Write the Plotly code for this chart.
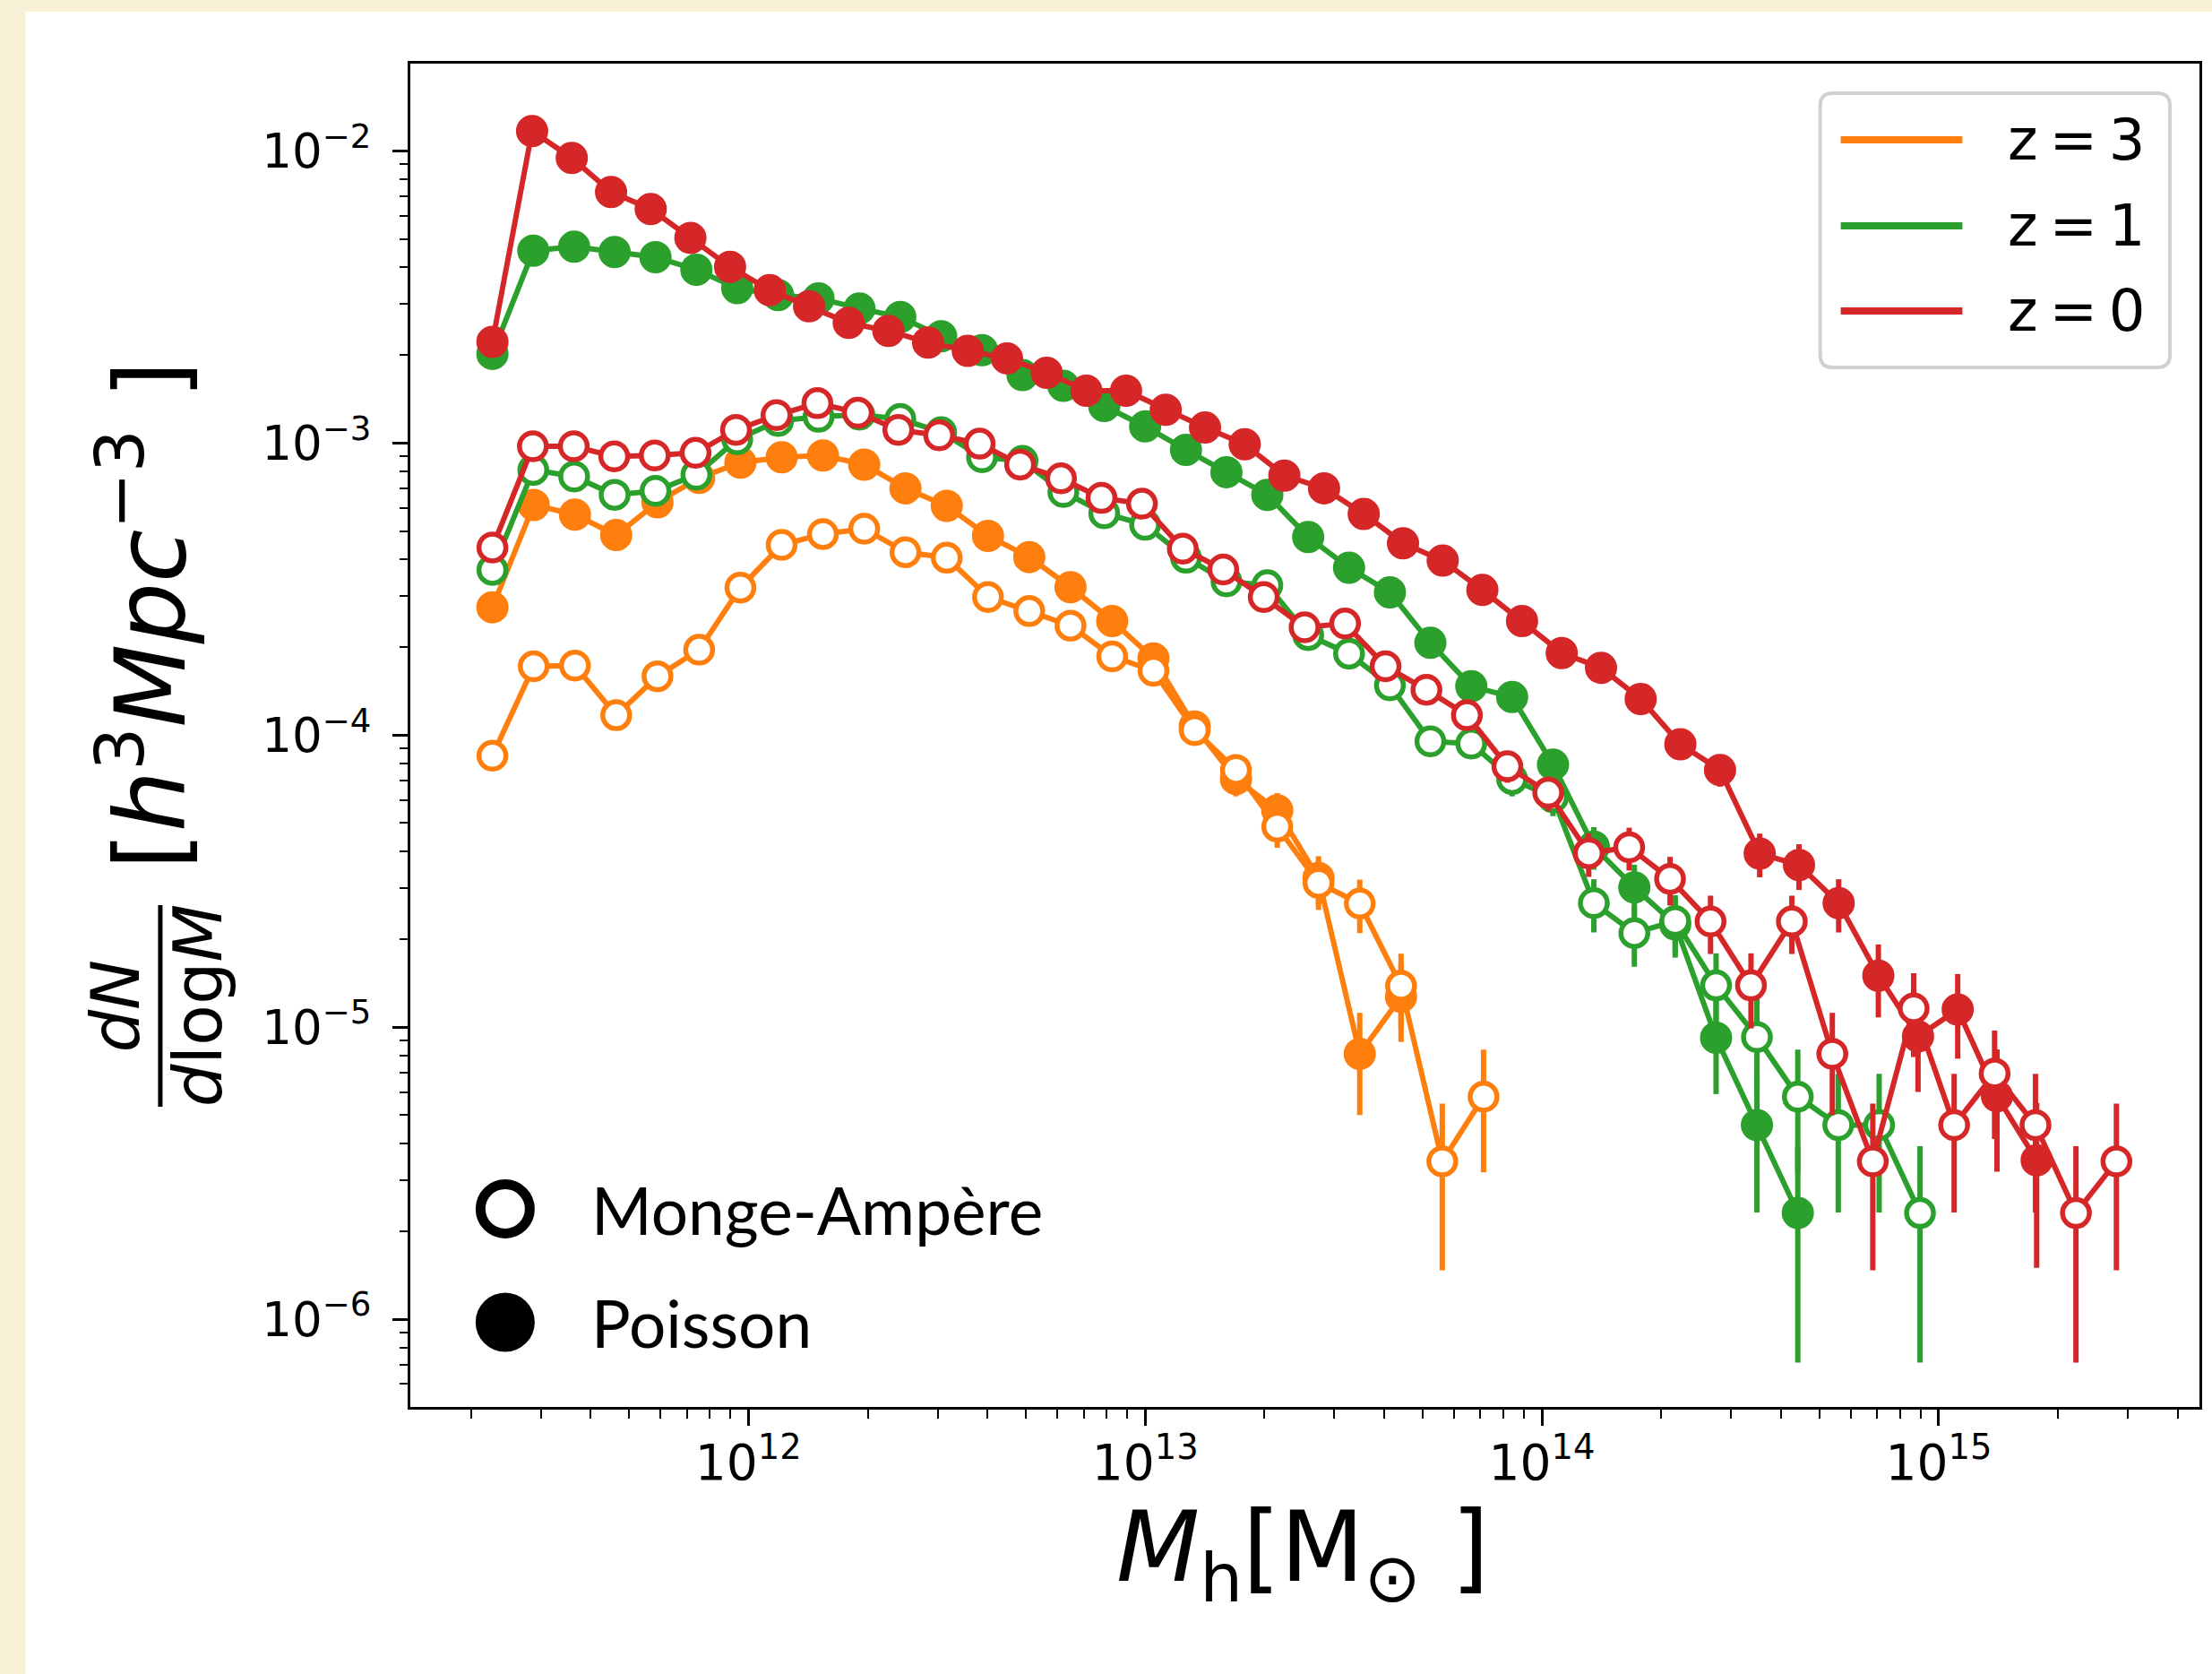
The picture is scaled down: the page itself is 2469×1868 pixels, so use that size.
import plotly.graph_objects as go

# ---------------------------------------------------------------------------
# Halo mass function dN/dlogM at z = 3, 1, 0 for two displacement schemes
# (Monge-Ampère: open circles, Poisson: filled circles)
# ---------------------------------------------------------------------------

# log10 bin centres of halo mass [M_sun]
logm_z3 = [11.355, 11.459, 11.563, 11.667, 11.771, 11.876, 11.980, 12.084, 12.188,
           12.292, 12.396, 12.500, 12.604, 12.708, 12.812, 12.917, 13.021, 13.125,
           13.229, 13.333, 13.437, 13.541, 13.645, 13.749, 13.853]
logm_z1 = [11.355, 11.458, 11.561, 11.663, 11.766, 11.869, 11.972, 12.075, 12.177,
           12.280, 12.383, 12.486, 12.589, 12.691, 12.794, 12.897, 13.000, 13.103,
           13.205, 13.308, 13.411, 13.514, 13.617, 13.719, 13.822, 13.925, 14.028,
           14.131, 14.233, 14.336, 14.439, 14.542, 14.645, 14.747, 14.850, 14.953]
logm_z0_poisson = [11.355, 11.455, 11.555, 11.654, 11.754, 11.854, 11.954, 12.054,
                   12.153, 12.253, 12.353, 12.453, 12.553, 12.652, 12.752, 12.852,
                   12.952, 13.052, 13.151, 13.251, 13.351, 13.451, 13.551, 13.650,
                   13.750, 13.850, 13.950, 14.050, 14.149, 14.249, 14.349, 14.449,
                   14.549, 14.648, 14.748, 14.848, 14.948, 15.048, 15.147, 15.247]
logm_z0_ma = [11.355, 11.457, 11.560, 11.662, 11.764, 11.867, 11.969, 12.071, 12.174,
              12.276, 12.378, 12.481, 12.583, 12.685, 12.788, 12.890, 12.992, 13.095,
              13.197, 13.299, 13.402, 13.504, 13.606, 13.709, 13.811, 13.913, 14.016,
              14.118, 14.220, 14.323, 14.425, 14.527, 14.630, 14.732, 14.834, 14.937,
              15.039, 15.141, 15.244, 15.346, 15.448]

# dN/dlogM [h^3 Mpc^-3]
hmf_z3_poisson = [2.74e-4, 6.14e-4, 5.69e-4, 4.84e-4, 6.27e-4, 7.6e-4, 8.57e-4, 8.94e-4,
                  9.07e-4, 8.44e-4, 7.0e-4, 6.09e-4, 4.81e-4, 4.07e-4, 3.21e-4, 2.46e-4,
                  1.83e-4, 1.07e-4, 7.07e-5, 5.53e-5, 3.24e-5, 8.1e-6, 1.27e-5]
hmf_z3_ma = [8.5e-5, 1.72e-4, 1.73e-4, 1.17e-4, 1.59e-4, 1.96e-4, 3.2e-4, 4.48e-4,
             4.88e-4, 5.09e-4, 4.23e-4, 4.05e-4, 2.97e-4, 2.66e-4, 2.37e-4, 1.86e-4,
             1.66e-4, 1.04e-4, 7.6e-5, 4.86e-5, 3.12e-5, 2.65e-5, 1.385e-5, 3.47e-6,
             5.78e-6]
hmf_z1_poisson = [2.02e-3, 4.56e-3, 4.70e-3, 4.51e-3, 4.33e-3, 3.92e-3, 3.39e-3, 3.21e-3,
                  3.13e-3, 2.89e-3, 2.70e-3, 2.32e-3, 2.08e-3, 1.71e-3, 1.57e-3, 1.34e-3,
                  1.14e-3, 9.48e-4, 7.95e-4, 6.65e-4, 4.77e-4, 3.74e-4, 3.08e-4, 2.07e-4,
                  1.47e-4, 1.35e-4, 7.93e-5, 4.15e-5, 3.01e-5, 2.25e-5, 9.2e-6, 4.62e-6,
                  2.31e-6]
hmf_z1_ma = [3.68e-4, 8.09e-4, 7.68e-4, 6.65e-4, 6.86e-4, 7.79e-4, 1.03e-3, 1.19e-3,
             1.23e-3, 1.25e-3, 1.21e-3, 1.09e-3, 8.94e-4, 8.69e-4, 6.80e-4, 5.75e-4,
             5.25e-4, 4.05e-4, 3.36e-4, 3.26e-4, 2.20e-4, 1.90e-4, 1.48e-4, 9.52e-5,
             9.35e-5, 7.07e-5, 6.12e-5, 2.66e-5, 2.10e-5, 2.31e-5, 1.39e-5, 9.25e-6,
             5.78e-6, 4.62e-6, 4.62e-6, 2.31e-6]
hmf_z0_poisson = [2.22e-3, 1.17e-2, 9.47e-3, 7.24e-3, 6.33e-3, 5.04e-3, 4.01e-3, 3.34e-3,
                  2.94e-3, 2.58e-3, 2.42e-3, 2.21e-3, 2.07e-3, 1.95e-3, 1.74e-3, 1.51e-3,
                  1.51e-3, 1.30e-3, 1.13e-3, 9.9e-4, 7.74e-4, 7.0e-4, 5.72e-4, 4.54e-4,
                  3.96e-4, 3.14e-4, 2.46e-4, 1.91e-4, 1.70e-4, 1.33e-4, 9.3e-5, 7.6e-5,
                  3.93e-5, 3.59e-5, 2.66e-5, 1.50e-5, 9.3e-6, 1.15e-5, 5.8e-6, 3.5e-6]
hmf_z0_ma = [4.39e-4, 9.75e-4, 9.75e-4, 9.0e-4, 9.07e-4, 9.26e-4, 1.11e-3, 1.246e-3,
             1.37e-3, 1.27e-3, 1.11e-3, 1.063e-3, 9.95e-4, 8.44e-4, 7.57e-4, 6.49e-4,
             6.20e-4, 4.35e-4, 3.69e-4, 2.97e-4, 2.34e-4, 2.41e-4, 1.72e-4, 1.43e-4,
             1.17e-4, 7.82e-5, 6.35e-5, 3.94e-5, 4.13e-5, 3.22e-5, 2.30e-5, 1.39e-5,
             2.30e-5, 8.1e-6, 3.47e-6, 1.16e-5, 4.62e-6, 6.94e-6, 4.62e-6, 2.31e-6,
             3.47e-6]

# Poisson counting errors (negligible ones left at zero)
err_z3_poisson = [0, 0, 0, 0, 0, 0, 0, 0, 0, 0, 0, 0, 0, 0, 0, 0, 0, 0,
                  9.0e-6, 8.0e-6, 6.1e-6, 3.1e-6, 3.8e-6]
err_z3_ma = [0, 0, 0, 0, 0, 0, 0, 0, 0, 0, 0, 0, 0, 0, 0, 0, 0,
             1.1e-5, 9.4e-6, 7.5e-6, 6.0e-6, 5.5e-6, 4.0e-6, 2.0e-6, 2.6e-6]
err_z1_poisson = [0, 0, 0, 0, 0, 0, 0, 0, 0, 0, 0, 0, 0, 0, 0, 0, 0, 0, 0, 0, 0, 0,
                  0, 0, 0, 0,
                  9.6e-6, 6.9e-6, 5.9e-6, 5.2e-6, 3.3e-6, 2.3e-6, 1.6e-6]
err_z1_ma = [0, 0, 0, 0, 0, 0, 0, 0, 0, 0, 0, 0, 0, 0, 0, 0, 0, 0, 0, 0, 0, 0, 0,
             1.05e-5, 1.04e-5, 9.0e-6, 8.4e-6, 5.5e-6, 4.9e-6, 5.2e-6, 4.0e-6, 3.3e-6,
             2.6e-6, 2.3e-6, 2.3e-6, 1.6e-6]
err_z0_poisson = [0, 0, 0, 0, 0, 0, 0, 0, 0, 0, 0, 0, 0, 0, 0, 0, 0, 0, 0, 0, 0, 0,
                  0, 0, 0, 0, 0, 0, 0,
                  1.24e-5, 1.03e-5, 9.4e-6, 6.7e-6, 6.4e-6, 5.5e-6, 4.2e-6, 3.3e-6,
                  3.7e-6, 2.6e-6, 2.0e-6]
err_z0_ma = [0, 0, 0, 0, 0, 0, 0, 0, 0, 0, 0, 0, 0, 0, 0, 0, 0, 0, 0, 0, 0, 0, 0,
             0, 0,
             9.5e-6, 8.6e-6, 6.7e-6, 6.9e-6, 6.1e-6, 5.2e-6, 4.0e-6, 5.2e-6, 3.1e-6,
             2.0e-6, 3.7e-6, 2.3e-6, 2.8e-6, 2.3e-6, 1.6e-6, 2.0e-6]

redshift_labels = ["z = 3", "z = 1", "z = 0"]
method_labels = ["Monge-Ampère", "Poisson"]
x_tick_vals = [1e12, 1e13, 1e14, 1e15]
x_tick_text = ["10<sup>12</sup>", "10<sup>13</sup>", "10<sup>14</sup>", "10<sup>15</sup>"]
y_tick_vals = [1e-6, 1e-5, 1e-4, 1e-3, 1e-2]
y_tick_text = ["10<sup>\u22126</sup>", "10<sup>\u22125</sup>", "10<sup>\u22124</sup>",
               "10<sup>\u22123</sup>", "10<sup>\u22122</sup>"]

ORANGE, GREEN, RED = "#ff7f0e", "#2ca02c", "#d62728"

# ---------------------------------------------------------------------------
FIG_W, FIG_H = 2469, 1868
PLOT_L, PLOT_R, PLOT_T, PLOT_B = 458, 2458, 71, 1570
FONT = "DejaVu Sans"


def paper(px, py):
    """Pixel position on the page -> paper coordinates."""
    return (px - PLOT_L) / (PLOT_R - PLOT_L), (PLOT_B - py) / (PLOT_B - PLOT_T)


def series(logm, vals, errs, color, filled):
    marker = dict(symbol="circle", size=32 if filled else 30,
                  color=color if filled else "white",
                  line=dict(color=color, width=4 if filled else 5.5))
    return go.Scatter(
        x=[10 ** v for v in logm], y=vals, mode="lines+markers",
        line=dict(color=color, width=6), marker=marker,
        error_y=dict(type="data", array=errs, visible=True, thickness=6,
                     width=0, color=color),
        showlegend=False, cliponaxis=True,
    )


fig = go.Figure()
fig.add_trace(series(logm_z3, hmf_z3_poisson, err_z3_poisson, ORANGE, True))
fig.add_trace(series(logm_z3, hmf_z3_ma, err_z3_ma, ORANGE, False))
fig.add_trace(series(logm_z1[:len(hmf_z1_poisson)], hmf_z1_poisson, err_z1_poisson, GREEN, True))
fig.add_trace(series(logm_z1, hmf_z1_ma, err_z1_ma, GREEN, False))
fig.add_trace(series(logm_z0_poisson, hmf_z0_poisson, err_z0_poisson, RED, True))
fig.add_trace(series(logm_z0_ma, hmf_z0_ma, err_z0_ma, RED, False))

x_minor = [m * 10 ** e for e in range(11, 16) for m in range(2, 10)]
y_minor = [m * 10 ** e for e in range(-7, -1) for m in range(2, 10)]

axis_common = dict(
    type="log", showline=True, linecolor="black", linewidth=3, mirror=True,
    ticks="outside", tickcolor="black", tickwidth=2.5, showgrid=False,
    zeroline=False, tickmode="array",
)
fig.update_xaxes(
    **axis_common, range=[11.1481, 15.6573], ticklen=18,
    tickvals=x_tick_vals, ticktext=x_tick_text,
    tickfont=dict(family=FONT, size=55, color="black"), ticklabelstandoff=-6,
    minor=dict(ticks="outside", ticklen=10, tickwidth=2, tickcolor="black",
               tickmode="array", tickvals=x_minor, showgrid=False),
)
fig.update_yaxes(
    **axis_common, range=[-6.3004, -1.7008], ticklen=17,
    tickvals=y_tick_vals, ticktext=y_tick_text,
    tickfont=dict(family=FONT, size=53, color="black"), ticklabelstandoff=13,
    minor=dict(ticks="outside", ticklen=9, tickwidth=2, tickcolor="black",
               tickmode="array", tickvals=y_minor, showgrid=False),
)

shapes = []
annotations = []

# white card on the cream page
x0, y0 = paper(28, 1880)
x1, y1 = paper(2480, 13)
shapes.append(dict(type="rect", xref="paper", yref="paper", x0=x0, y0=y0, x1=x1, y1=y1,
                   fillcolor="white", line=dict(width=0), layer="below"))

# redshift legend: rounded frame, line samples and labels
bx0, by0, bx1, by1, rad = 2034, 104, 2425, 410, 14
pts = {
    "a": paper(bx0 + rad, by0), "b": paper(bx1 - rad, by0), "c": paper(bx1, by0),
    "d": paper(bx1, by0 + rad), "e": paper(bx1, by1 - rad), "f": paper(bx1, by1),
    "g": paper(bx1 - rad, by1), "h": paper(bx0 + rad, by1), "i": paper(bx0, by1),
    "j": paper(bx0, by1 - rad), "k": paper(bx0, by0 + rad), "l": paper(bx0, by0),
}
p = lambda k: f"{pts[k][0]:.5f},{pts[k][1]:.5f}"
path = (f"M {p('a')} L {p('b')} Q {p('c')} {p('d')} L {p('e')} Q {p('f')} {p('g')} "
        f"L {p('h')} Q {p('i')} {p('j')} L {p('k')} Q {p('l')} {p('a')} Z")
shapes.append(dict(type="path", xref="paper", yref="paper", path=path,
                   fillcolor="white", line=dict(color="#d0d0d0", width=4)))
for label, color, yy in zip(redshift_labels, [ORANGE, GREEN, RED], [156, 252, 347]):
    lx0, ly = paper(2057, yy)
    lx1, _ = paper(2193, yy)
    shapes.append(dict(type="line", xref="paper", yref="paper", x0=lx0, x1=lx1,
                       y0=ly, y1=ly, line=dict(color=color, width=8)))
    tx, ty = paper(2242, yy)
    annotations.append(dict(text=label.replace(" ", "\u2009"), x=tx, y=ty,
                            xref="paper", yref="paper",
                            xanchor="left", yanchor="middle", showarrow=False,
                            font=dict(family=FONT, size=64, color="black")))

# method legend: open / filled black circles
for (cx, cy), filled in [((564, 1349), False), ((564, 1475.5), True)]:
    ax, ay = paper(cx, cy)
    r = 33 if filled else 27.5
    shapes.append(dict(type="circle", xref="paper", yref="paper",
                       xsizemode="pixel", ysizemode="pixel", xanchor=ax, yanchor=ay,
                       x0=-r, x1=r, y0=-r, y1=r,
                       fillcolor="black" if filled else "white",
                       line=dict(color="black", width=0 if filled else 11)))
for label, yy in zip(method_labels, [1350, 1476]):
    tx, ty = paper(658, yy)
    annotations.append(dict(text=label, x=tx, y=ty, xref="paper", yref="paper",
                            xanchor="left", yanchor="middle", showarrow=False,
                            font=dict(family="Lato", size=73, color="black")))

# x-axis title
tx, ty = paper(1455, 1734)
annotations.append(dict(text="<i>M</i><sub>h</sub>[M<sub>\u2299</sub> ]", x=tx, y=ty,
                        xref="paper", yref="paper", xanchor="center", yanchor="middle",
                        showarrow=False, font=dict(family=FONT, size=108, color="black")))

# y-axis title: fraction dN / dlogM followed by units
tx, ty = paper(129, 1122)
annotations.append(dict(text="<i>dN</i>", x=tx, y=ty, xref="paper", yref="paper",
                        textangle=-90, xanchor="center", yanchor="middle", showarrow=False,
                        font=dict(family=FONT, size=75, color="black")))
tx, ty = paper(221, 1122)
annotations.append(dict(text="<i>d</i>log<i>M</i>", x=tx, y=ty, xref="paper", yref="paper",
                        textangle=-90, xanchor="center", yanchor="middle", showarrow=False,
                        font=dict(family=FONT, size=75, color="black")))
fx, fy0 = paper(178.5, 1010)
_, fy1 = paper(178.5, 1235)
shapes.append(dict(type="line", xref="paper", yref="paper", x0=fx, x1=fx, y0=fy0, y1=fy1,
                   line=dict(color="black", width=5)))
tx, ty = paper(160, 686)
annotations.append(dict(text="[<i>h</i><sup>3</sup><i>Mpc</i><sup>\u22123</sup> ]", x=tx, y=ty,
                        xref="paper", yref="paper", textangle=-90, xanchor="center",
                        yanchor="middle", showarrow=False,
                        font=dict(family=FONT, size=108, color="black")))

fig.update_layout(
    width=FIG_W, height=FIG_H, autosize=False,
    margin=dict(l=PLOT_L, r=FIG_W - PLOT_R, t=PLOT_T, b=FIG_H - PLOT_B, pad=0),
    paper_bgcolor="#f9f1d7", plot_bgcolor="white",
    showlegend=False, shapes=shapes, annotations=annotations,
    font=dict(family=FONT, color="black"),
)

fig.write_html("out.html")
